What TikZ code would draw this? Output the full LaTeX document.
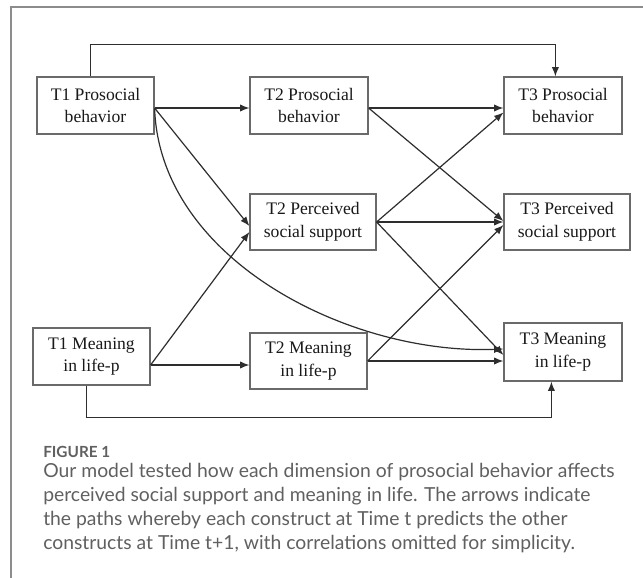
\documentclass[tikz,border=0pt]{standalone}
\usepackage{fontspec}
\setmainfont{Liberation Serif}
\newfontfamily\capfont{Lato}
\usetikzlibrary{arrows.meta,calc}
\definecolor{framegray}{HTML}{8C8C8C}
\definecolor{boxgray}{HTML}{6A6A6A}
\definecolor{linegray}{HTML}{2E2E2E}
\definecolor{capgray}{HTML}{606060}
\tikzset{
  var/.style={draw=boxgray, line width=0.9pt, fill=white, inner sep=0pt, align=center,
    font=\fontsize{13.2}{17}\selectfont, text=black!90},
  path/.style={draw=linegray, line width=0.9pt, -{Latex[length=7pt,width=5.5pt]}},
  capline/.style={anchor=base west, inner sep=0pt, text=capgray, font=\capfont\fontsize{14.5}{18.4}\selectfont},
}
\begin{document}
\begin{tikzpicture}[x=0.75pt,y=-0.75pt]
\useasboundingbox (0,0) rectangle (643,578);
\fill[white] (0,0) rectangle (643,578);
\draw[framegray, line width=1.2pt] (11,578) -- (11,7) -- (643,7);
% nodes
\node[var, minimum width=87.75pt, minimum height=42.75pt] (T1P) at (95.5,105.5) {T1 Prosocial\\ behavior};
\node[var, minimum width=88.5pt, minimum height=42.75pt] (T2P) at (309,105.5) {T2 Prosocial\\ behavior};
\node[var, minimum width=88.5pt, minimum height=42.75pt] (T3P) at (563,105.5) {T3 Prosocial\\ behavior};
\node[var, minimum width=94.5pt, minimum height=42pt] (T2S) at (313,222) {T2 Perceived\\ social support};
\node[var, minimum width=94.5pt, minimum height=42pt] (T3S) at (567,222) {T3 Perceived\\ social support};
\node[var, minimum width=87.75pt, minimum height=42.75pt] (T1M) at (91.5,356.5) {T1 Meaning\\ in life-p};
\node[var, minimum width=87.75pt, minimum height=42pt] (T2M) at (308.5,361) {T2 Meaning\\ in life-p};
\node[var, minimum width=88.5pt, minimum height=43.5pt] (T3M) at (563,352) {T3 Meaning\\ in life-p};
% coordinates for the long links
\coordinate (topL) at ($(T1P.north west)+(54,-32)$);
\coordinate (topR) at ($(T3P.north west)+(52,-32)$);
\coordinate (botL) at ($(T1M.south west)+(54,32)$);
\coordinate (botR) at ($(T3M.south west)+(48,36)$);
% paths
\draw[path] ($(T1P.north west)+(54,0)$) -- (topL) -- (topR) -- ($(T3P.north west)+(52,0)$);
\draw[path] ($(T1M.south west)+(54,0)$) -- (botL) -- (botR) -- ($(T3M.south west)+(48,0)$);
\draw[path] ($(T1P.east)+(0,2.5)$) -- ($(T2P.west)+(0,2.5)$);
\draw[path] ($(T1P.east)+(0,2.5)$) -- ($(T2S.west)+(0,4)$);
\draw[path] ($(T1M.east)+(0,8.5)$) -- ($(T2S.west)+(0,10)$);
\draw[path] ($(T1M.east)+(0,8.5)$) -- ($(T2M.west)+(0,4)$);
\draw[path] ($(T2P.east)+(0,2.5)$) -- ($(T3P.west)+(0,2.5)$);
\draw[path] ($(T2P.east)+(0,2.5)$) -- ($(T3S.west)+(0,-1)$);
\draw[path] (T2S.east) -- ($(T3P.west)+(0,7)$);
\draw[path] (T2S.east) -- (T3S.west);
\draw[path] (T2S.east) -- ($(T3M.west)+(0,3)$);
\draw[path] (T2M.east) -- ($(T3S.west)+(0,3)$);
\draw[path] (T2M.east) -- ($(T3M.west)+(0,9)$);
\draw[path] ($(T1P.east)+(0,3)$) .. controls (160,260) and (350,355) .. ($(T3M.west)+(0,-3)$);
% caption
\node[anchor=base west, inner sep=0pt, text=capgray, font=\capfont\fontsize{11.5}{13}\selectfont\bfseries] (fig) at (43,457) {FIGURE 1};
\node[capline] (cap1) at (43,477) {Our model tested how each dimension of prosocial behavior affects};
\node[capline] (cap2) at (43,501) {perceived social support and meaning in life. The arrows indicate};
\node[capline] (cap3) at (43,525) {the paths whereby each construct at Time t predicts the other};
\node[capline] (cap4) at (43,549) {constructs at Time t+1, with correlations omitted for simplicity.};
\end{tikzpicture}
\end{document}
